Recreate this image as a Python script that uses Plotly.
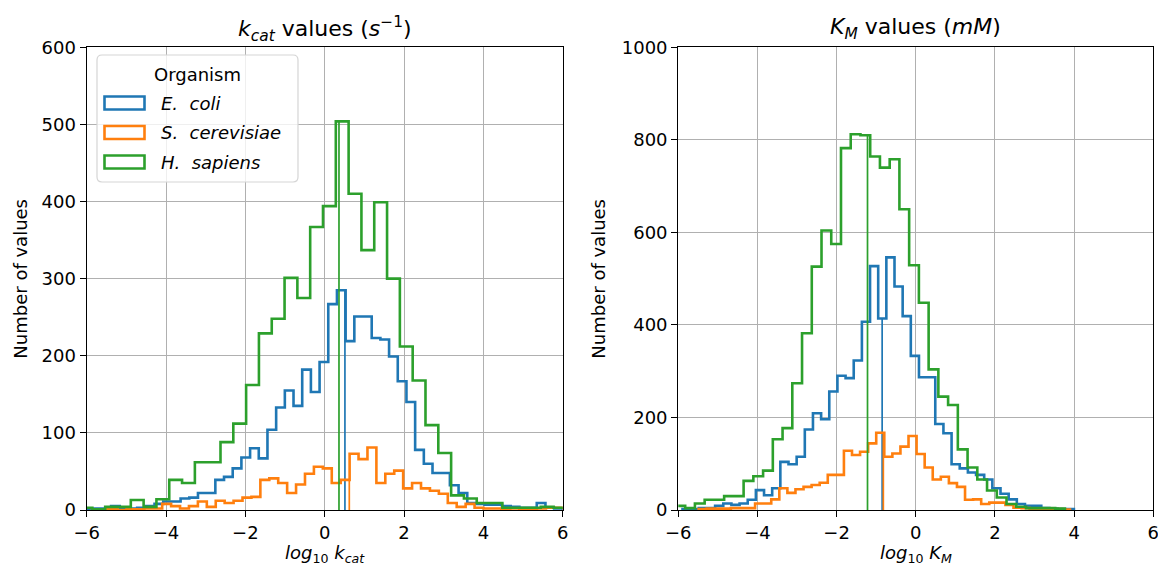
import numpy as np
import plotly.graph_objects as go

# ---------------- data ----------------
organisms = ["E. coli", "S. cerevisiae", "H. sapiens"]
colors = ["#1f77b4", "#ff7f0e", "#2ca02c"]

# kcat histograms: first bin left edge, bin width and counts (log10 kcat)
kcat_start = [-6.042, -5.897, -6.18]
kcat_width = [0.219, 0.225, 0.323]
kcat_ecoli = [1, 2, 2, 5, 2, 2, 3, 5,
              8, 11, 11, 15, 16, 22, 22, 39, 43, 54, 68, 80, 67, 104, 133,
              155, 135, 182, 153, 192, 267, 285, 219, 251, 251, 223, 221, 199,
              167, 140, 78, 60, 48, 48, 32, 22, 9,
              8, 7, 7, 5, 4, 3, 3, 9, 3, 2, 1]
kcat_yeast = [0, 1, 1, 0, 1, 1, 2, 2,
              8, 5, 2, 5, 11, 4, 12, 9, 12, 16, 17, 39, 41, 35, 22, 33,
              47, 56, 54, 35, 39, 73, 66, 81, 35, 47, 51, 28, 35, 28, 25, 21,
              9, 4, 8,
              3, 2, 2, 1, 2, 1, 1, 2, 3, 3]
kcat_human = [3, 1, 4, 4, 13, 4, 14, 39, 35, 62, 62, 88, 112, 162, 229, 248,
              301, 275, 367, 394, 504, 410, 337, 399, 300, 212, 168, 110, 74,
              19, 15, 9, 9, 3, 3, 3, 4, 3]
kcat_median = [0.51, 0.62, 0.36]

# KM histograms (log10 KM)
km_start = [-5.894, -5.488, -6.072]
km_width = [0.206, 0.204, 0.246]
km_ecoli = [2, 2, 4, 4,
            9, 14, 11, 14, 22, 43, 32, 47, 104, 99, 115, 174, 209, 196, 256,
            290, 285, 323, 407, 527, 414, 546, 483, 419, 333, 287, 287, 186,
            166, 99, 90, 81, 76, 66, 47, 35, 23, 13, 9, 9,
            4, 3, 2, 2]
km_yeast = [2, 3, 3, 3, 4, 4, 4,
            14, 14, 23, 47, 37, 45, 50, 54, 59, 76, 76, 128, 119, 126, 144,
            167, 115, 122, 137, 160, 121, 92, 66, 72, 58, 50, 22, 23, 13, 16,
            16, 11, 5,
            4, 3, 2, 2, 2, 1]
km_human = [9, 4, 14, 22, 22, 30, 30, 63, 73, 85, 153, 177, 274, 382, 526,
            604, 575, 782, 812, 810, 764, 740, 758, 650, 529, 448, 304, 245,
            227, 131, 92, 66, 42, 27, 13, 7, 4, 4, 4, 3]
km_median = [-0.85, -0.82, -1.22]

x_ticks = [-6, -4, -2, 0, 2, 4, 6]
kcat_yticks = [0, 100, 200, 300, 400, 500, 600]
km_yticks = [0, 200, 400, 600, 800, 1000]

# ---------------- figure ----------------
W, H = 1158, 567
FONT = "DejaVu Sans"


def px(x):
    return x / W


def py(y):
    return 1 - y / H


fig = go.Figure()


def add_hist(start, width, counts, median, color, xa, ya):
    counts = np.asarray(counts, dtype=float)
    edges = start + width * np.arange(len(counts) + 1)
    xs = np.concatenate([[edges[0]], edges[:-1], [edges[-1]]])
    ys = np.concatenate([[0.0], counts, [0.0]])
    fig.add_trace(go.Scatter(x=xs, y=ys, mode="lines", line_shape="hv",
                             line=dict(color=color, width=2.6),
                             xaxis=xa, yaxis=ya, showlegend=False,
                             hoverinfo="skip"))
    idx = int(np.floor((median - start) / width))
    h = counts[idx]
    fig.add_trace(go.Scatter(x=[median, median], y=[0, h], mode="lines",
                             line=dict(color=color, width=1.7),
                             xaxis=xa, yaxis=ya, showlegend=False,
                             hoverinfo="skip"))


kcat_counts = [kcat_ecoli, kcat_yeast, kcat_human]
km_counts = [km_ecoli, km_yeast, km_human]
for i in range(3):
    add_hist(kcat_start[i], kcat_width[i], kcat_counts[i], kcat_median[i],
             colors[i], "x", "y")
for i in range(3):
    add_hist(km_start[i], km_width[i], km_counts[i], km_median[i],
             colors[i], "x2", "y2")

axis_common = dict(showline=True, linecolor="black", linewidth=1.3,
                   mirror=True, ticks="outside", ticklen=6, tickwidth=1.3,
                   tickcolor="black", showgrid=True, gridcolor="#b0b0b0",
                   gridwidth=1.1, zeroline=False, automargin=False,
                   ticklabeloverflow="allow",
                   tickfont=dict(family=FONT, size=18, color="black"))

xd1 = [px(86.7), px(562.7)]
xd2 = [px(678.3), px(1153.3)]
yd = [py(510), py(47.3)]

fig.update_layout(
    width=W, height=H,
    margin=dict(l=0, r=0, t=0, b=0, autoexpand=False),
    paper_bgcolor="white", plot_bgcolor="white",
    showlegend=False,
    xaxis=dict(domain=xd1, range=[-6, 6], tickvals=x_ticks, anchor="y",
               **axis_common),
    yaxis=dict(domain=yd, range=[0, 600], tickvals=kcat_yticks, anchor="x",
               **axis_common),
    xaxis2=dict(domain=xd2, range=[-6, 6], tickvals=x_ticks, anchor="y2",
                **axis_common),
    yaxis2=dict(domain=yd, range=[0, 1000], tickvals=km_yticks, anchor="x2",
                **axis_common),
)

ann = []
tfont = dict(family=FONT, size=22, color="black")
lfont = dict(family=FONT, size=18, color="black")
c1 = (xd1[0] + xd1[1]) / 2
c2 = (xd2[0] + xd2[1]) / 2
ann.append(dict(x=c1, y=py(29), xref="paper", yref="paper", showarrow=False,
                text="<i>k</i><sub><i>cat</i></sub> values (<i>s</i><sup>\u22121</sup>)",
                font=tfont, xanchor="center", yanchor="middle"))
ann.append(dict(x=c2, y=py(29), xref="paper", yref="paper", showarrow=False,
                text="<i>K</i><sub><i>M</i></sub> values (<i>mM</i>)",
                font=tfont, xanchor="center", yanchor="middle"))
ann.append(dict(x=c1, y=py(554), xref="paper", yref="paper", showarrow=False,
                text="<i>log</i><sub>10</sub> <i>k</i><sub><i>cat</i></sub>",
                font=lfont, xanchor="center", yanchor="middle"))
ann.append(dict(x=c2, y=py(554), xref="paper", yref="paper", showarrow=False,
                text="<i>log</i><sub>10</sub> <i>K</i><sub><i>M</i></sub>",
                font=lfont, xanchor="center", yanchor="middle"))
ann.append(dict(x=px(21), y=(yd[0] + yd[1]) / 2, xref="paper", yref="paper",
                showarrow=False, text="Number of values", textangle=-90,
                font=lfont, xanchor="center", yanchor="middle"))
ann.append(dict(x=px(599), y=(yd[0] + yd[1]) / 2, xref="paper", yref="paper",
                showarrow=False, text="Number of values", textangle=-90,
                font=lfont, xanchor="center", yanchor="middle"))

# legend drawn inside the left panel
shapes = []
L, T, R, B, r = 97, 55, 298, 182, 5
path = (f"M {px(L + r)},{py(T)} L {px(R - r)},{py(T)} Q {px(R)},{py(T)} {px(R)},{py(T + r)} "
        f"L {px(R)},{py(B - r)} Q {px(R)},{py(B)} {px(R - r)},{py(B)} "
        f"L {px(L + r)},{py(B)} Q {px(L)},{py(B)} {px(L)},{py(B - r)} "
        f"L {px(L)},{py(T + r)} Q {px(L)},{py(T)} {px(L + r)},{py(T)} Z")
shapes.append(dict(type="path", path=path, xref="paper", yref="paper",
                   line=dict(color="#d5d5d5", width=1.2),
                   fillcolor="rgba(255,255,255,0.8)", layer="above"))
ann.append(dict(x=px(197.5), y=py(74), xref="paper", yref="paper",
                showarrow=False, text="Organism", font=lfont,
                xanchor="center", yanchor="middle"))
row_y = [103, 132.5, 162]
for i, name in enumerate(organisms):
    yc = row_y[i]
    shapes.append(dict(type="rect", xref="paper", yref="paper",
                       x0=px(104.5), x1=px(144.5), y0=py(yc - 6.5), y1=py(yc + 6.5),
                       line=dict(color=colors[i], width=2.6),
                       fillcolor="rgba(0,0,0,0)", layer="above"))
    ann.append(dict(x=px(159), y=py(yc), xref="paper", yref="paper",
                    showarrow=False, text="<i>" + name.replace(" ", "\u00a0\u00a0") + "</i>",
                    font=lfont, xanchor="left", yanchor="middle"))

fig.update_layout(annotations=ann, shapes=shapes)

# remove the default 8 px page margin so the figure fills the window exactly
page_fix = ("document.body.style.margin='0';"
            "document.body.style.overflow='hidden';"
            "document.documentElement.style.overflow='hidden';")
fig.write_html("out.html", post_script=page_fix,
               config={"displayModeBar": False})
